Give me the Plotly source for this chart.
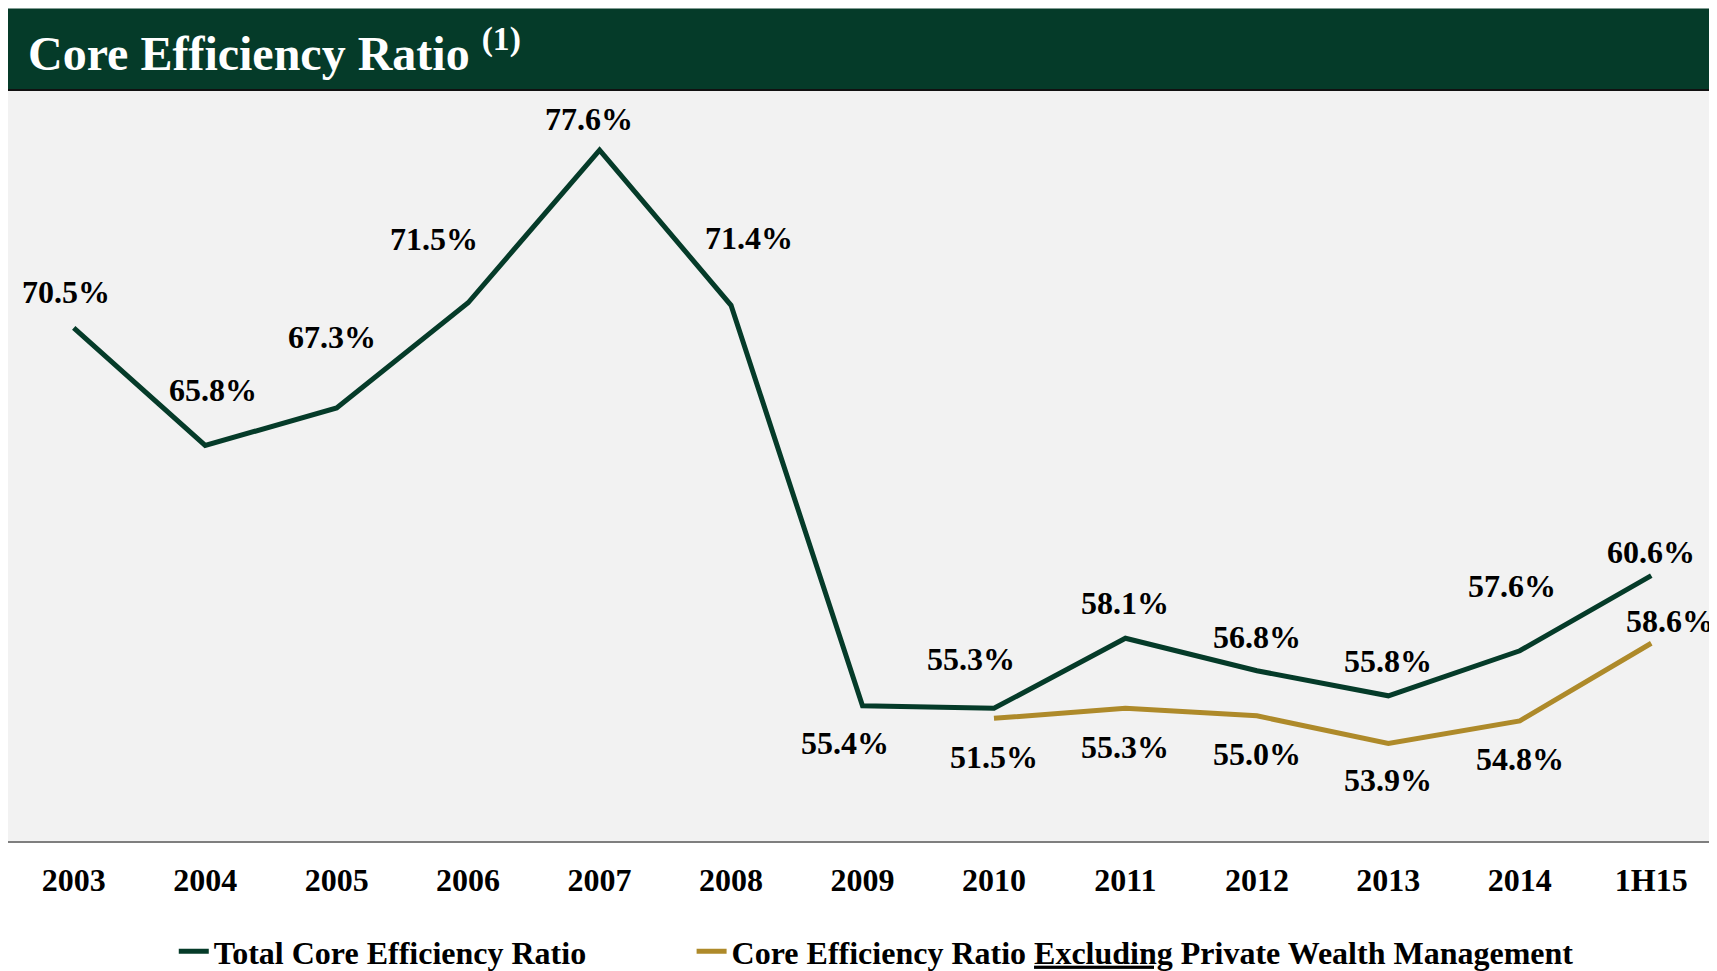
import plotly.graph_objects as go

GREEN = "#053B29"
GOLD = "#AE8A2A"
PLOT_BG = "#F2F2F2"
FONT = "Liberation Serif, Times New Roman, serif"

periods = ["2003", "2004", "2005", "2006", "2007", "2008", "2009",
           "2010", "2011", "2012", "2013", "2014", "1H15"]
total_core = [70.5, 65.8, 67.3, 71.5, 77.6, 71.4, 55.4, 55.3, 58.1, 56.8, 55.8, 57.6, 60.6]

ex_pwm_periods = ["2010", "2011", "2012", "2013", "2014", "1H15"]
# where the line sits in the picture, and the labels printed next to it
ex_pwm_line = [54.9, 55.3, 55.0, 53.9, 54.8, 57.9]
ex_pwm_text = ["51.5%", "55.3%", "55.0%", "53.9%", "54.8%", "58.6%"]

# label offsets from the point (px)
total_shift = [(-8, 36), (8, 55), (-5, 71), (-34, 64), (-11, 31), (18, 67), (-18, -37),
               (-23, 49), (0, 35), (0, 34), (0, 35), (-8, 65), (0, 24)]
ex_shift = [(0, -39), (0, -39), (0, -38), (0, -37), (0, -38), (19, 22)]

fig = go.Figure()
fig.add_scatter(
    x=periods, y=total_core, mode="lines", name="Total Core Efficiency Ratio",
    line=dict(color=GREEN, width=5), legend="legend",
)
fig.add_scatter(
    x=ex_pwm_periods, y=ex_pwm_line, mode="lines",
    name="Core Efficiency Ratio <u>Excluding</u> Private Wealth Management",
    line=dict(color=GOLD, width=5), legend="legend2",
)

# category axis: place labels by category index so "2003" isn't read as a number
label_font = dict(family=FONT, size=32, color="black", weight="bold")
for x, y, (dx, dy) in zip(periods, total_core, total_shift):
    fig.add_annotation(x=periods.index(x), y=y, text=f"{y:.1f}%", showarrow=False,
                       xshift=dx, yshift=dy, font=label_font)
for x, y, t, (dx, dy) in zip(ex_pwm_periods, ex_pwm_line, ex_pwm_text, ex_shift):
    fig.add_annotation(x=periods.index(x), y=y, text=t, showarrow=False,
                       xshift=dx, yshift=dy, font=label_font)

# title bar
fig.add_shape(type="rect", xref="paper", yref="paper", x0=0, x1=1, y0=1, y1=1 + 82 / 755,
              fillcolor=GREEN, line=dict(width=0), layer="below")
fig.add_shape(type="line", xref="paper", yref="paper", x0=0, x1=1, y0=1, y1=1,
              line=dict(color="#111111", width=2))
fig.add_annotation(
    xref="paper", yref="paper", x=0, y=1 + 40 / 755, xshift=18, xanchor="left", yanchor="middle",
    text="Core Efficiency Ratio <sup>(1)</sup>", showarrow=False,
    font=dict(family=FONT, size=48, color="white", weight="bold"),
)

legend_style = dict(orientation="h", xanchor="left", y=-0.147, yanchor="middle",
                    font=dict(family=FONT, size=32, color="black", weight="bold"),
                    bgcolor="rgba(0,0,0,0)")
fig.update_layout(
    width=1717, height=971,
    margin=dict(l=0, r=8, t=82, b=134),
    paper_bgcolor="white", plot_bgcolor=PLOT_BG,
    font=dict(family=FONT, color="black", size=32, weight="bold"),
    showlegend=True,
    legend=dict(x=0.097, **legend_style),
    legend2=dict(x=0.400, **legend_style),
)
fig.update_xaxes(type="category", range=[-0.5, 12.5], showgrid=False, zeroline=False,
                 showline=True, linecolor="#7F7F7F", linewidth=2, ticks="",
                 ticklabelstandoff=10, tickfont=dict(size=32))
fig.update_yaxes(range=[50, 80], showgrid=False, zeroline=False, showticklabels=False,
                 showline=True, linecolor="#555555", linewidth=2, ticks="")

fig.write_html("out.html")
